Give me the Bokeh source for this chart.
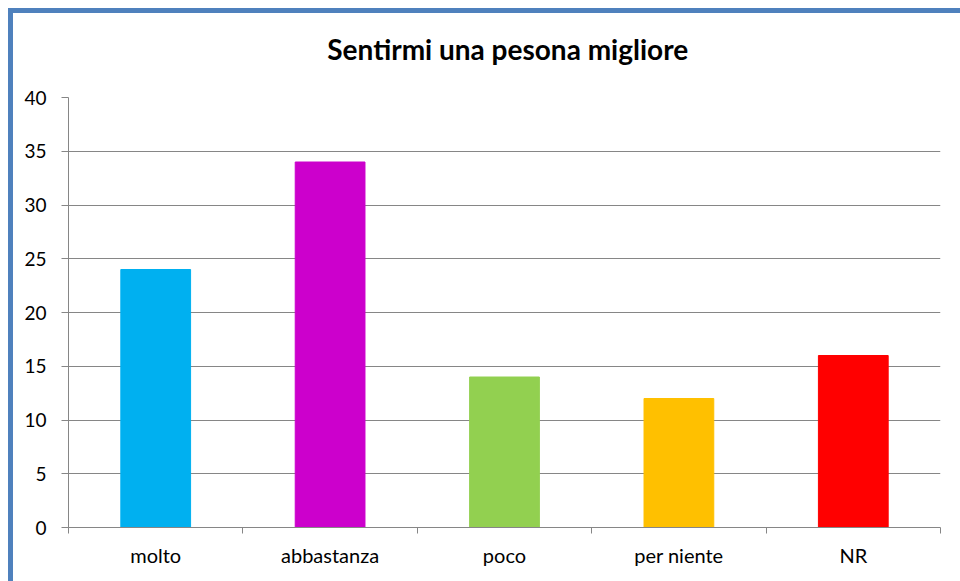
from bokeh.plotting import figure
from bokeh.layouts import column, row
from bokeh.models import FixedTicker, Range1d, ColumnDataSource, Spacer
from bokeh.core.properties import value
from bokeh.embed import file_html
from bokeh.resources import INLINE

title_text = "Sentirmi una pesona migliore"
categories = ["molto", "abbastanza", "poco", "per niente", "NR"]
values = [24, 34, 14, 12, 16]
colors = ["#00B0F0", "#CC00CC", "#92D050", "#FFC000", "#FF0000"]
y_ticks = [0, 5, 10, 15, 20, 25, 30, 35, 40]
frame_color = "#4F81BD"

xs = list(range(1, len(categories) + 1))
src = ColumnDataSource(dict(x=xs, top=values, color=colors, cat=categories))

# header with the title (pixel-like ranges)
head = figure(width=947, height=72, output_backend="svg", toolbar_location=None,
              x_range=Range1d(0, 947), y_range=Range1d(0, 72),
              x_axis_type=None, y_axis_type=None, min_border=0)
head.outline_line_color = None
head.xgrid.visible = False
head.ygrid.visible = False
head.text(x=[477], y=[37], text=[title_text], text_align="center", text_baseline="middle",
          text_font=value("Lato"), text_font_size="28px", text_font_style="bold",
          text_color="black")

fig = figure(width=947, height=496, output_backend="svg", toolbar_location=None,
             x_range=Range1d(0.5, len(categories) + 0.5), y_range=Range1d(0, 40),
             min_border_left=55, min_border_right=20, min_border_top=12, min_border_bottom=54)
fig.outline_line_color = None
fig.background_fill_color = "white"
fig.border_fill_color = "white"

fig.vbar(x="x", top="top", width=0.4, bottom=0, color="color", source=src)

fig.xaxis.ticker = FixedTicker(ticks=xs, minor_ticks=[i + 0.5 for i in range(0, len(categories) + 1)])
fig.xaxis.major_label_overrides = {x: c for x, c in zip(xs, categories)}
fig.xaxis.major_tick_out = 0
fig.xaxis.major_tick_in = 0
fig.xaxis.minor_tick_out = 6
fig.xaxis.minor_tick_in = 0
fig.xaxis.minor_tick_line_color = "#868686"
fig.xaxis.axis_line_color = "#868686"
fig.xaxis.major_label_standoff = 9
fig.xaxis.major_label_text_font = "Lato"
fig.xaxis.major_label_text_font_size = "20px"
fig.xaxis.major_label_text_color = "black"

fig.yaxis.ticker = FixedTicker(ticks=y_ticks)
fig.yaxis.major_tick_out = 7
fig.yaxis.major_tick_in = 0
fig.yaxis.minor_tick_line_color = None
fig.yaxis.major_tick_line_color = "#868686"
fig.yaxis.axis_line_color = "#868686"
fig.yaxis.major_label_standoff = 15
fig.yaxis.major_label_text_font = "Lato"
fig.yaxis.major_label_text_font_size = "19px"
fig.yaxis.major_label_text_color = "black"

fig.xgrid.grid_line_color = None
fig.ygrid.grid_line_color = "#868686"
fig.ygrid.ticker = FixedTicker(ticks=y_ticks)

left_strip = Spacer(width=5, height=573, styles={"background-color": frame_color})
top_strip = Spacer(width=947, height=5, styles={"background-color": frame_color})

p = row(left_strip, column(top_strip, head, fig, spacing=0), spacing=0,
        styles={"margin-left": "8px", "margin-top": "8px"})

open("out.html", "w").write(file_html(p, INLINE))
